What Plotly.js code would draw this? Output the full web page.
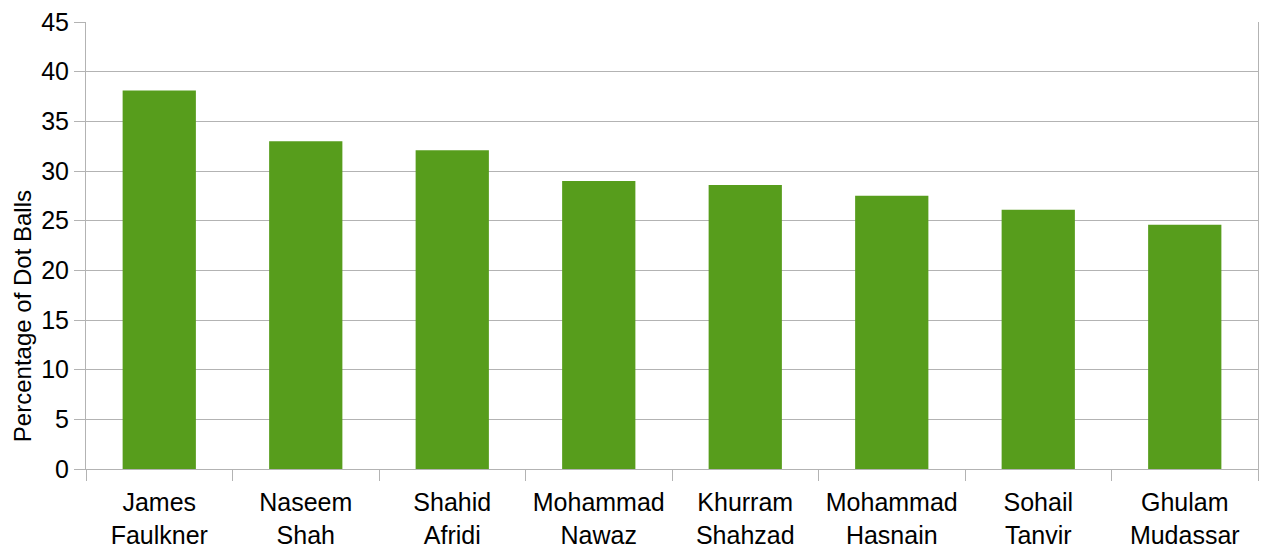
<!DOCTYPE html>
<html>
<head>
<meta charset="utf-8">
<script src="https://cdn.plot.ly/plotly-3.0.1.min.js"></script>
<style>html,body{margin:0;padding:0;background:#fff;}#chart{width:1262px;height:547px;}</style>
</head>
<body>
<div id="chart"></div>
<script>
const players = ["James<br>Faulkner", "Naseem<br>Shah", "Shahid<br>Afridi", "Mohammad<br>Nawaz", "Khurram<br>Shahzad", "Mohammad<br>Hasnain", "Sohail<br>Tanvir", "Ghulam<br>Mudassar"];
const dotBallPct = [38.1, 33.0, 32.1, 29.0, 28.6, 27.5, 26.1, 24.6];
const yTicks = [0, 5, 10, 15, 20, 25, 30, 35, 40, 45];
const yTitle = 'Percentage of Dot Balls';

const FONT = 'Liberation Sans, Arial, sans-serif';

const trace = {
  type: 'bar',
  x: players,
  y: dotBallPct,
  marker: {color: '#579d1c'},
  hoverinfo: 'x+y'
};

const layout = {
  width: 1262,
  height: 547,
  margin: {l: 86, r: 4, t: 22, b: 78, pad: 0},
  paper_bgcolor: '#ffffff',
  plot_bgcolor: '#ffffff',
  bargap: 0.5,
  showlegend: false,
  font: {family: FONT, color: '#000000'},
  xaxis: {
    type: 'category',
    showgrid: false,
    showline: true,
    linecolor: '#b3b3b3',
    linewidth: 1,
    ticks: 'outside',
    tickson: 'boundaries',
    ticklen: 11,
    tickcolor: '#b3b3b3',
    ticklabelstandoff: 11,
    tickfont: {size: 25, family: FONT, color: '#000'},
    zeroline: false
  },
  yaxis: {
    range: [0, 45],
    tickvals: yTicks,
    ticktext: yTicks.map(String),
    showgrid: true,
    gridcolor: '#b3b3b3',
    gridwidth: 1,
    showline: true,
    linecolor: '#b3b3b3',
    linewidth: 1,
    mirror: true,
    ticks: 'outside',
    ticklen: 11,
    tickcolor: '#b3b3b3',
    tickfont: {size: 25, family: FONT, color: '#000'},
    zeroline: false
  },
  annotations: [{
    text: yTitle,
    textangle: -90,
    xref: 'paper', yref: 'paper',
    x: -0.0546, y: 0.342,
    xanchor: 'center', yanchor: 'middle',
    showarrow: false,
    font: {size: 24, family: FONT, color: '#000'}
  }]
};

Plotly.newPlot('chart', [trace], layout, {displayModeBar: false, staticPlot: true});
</script>
</body>
</html>
